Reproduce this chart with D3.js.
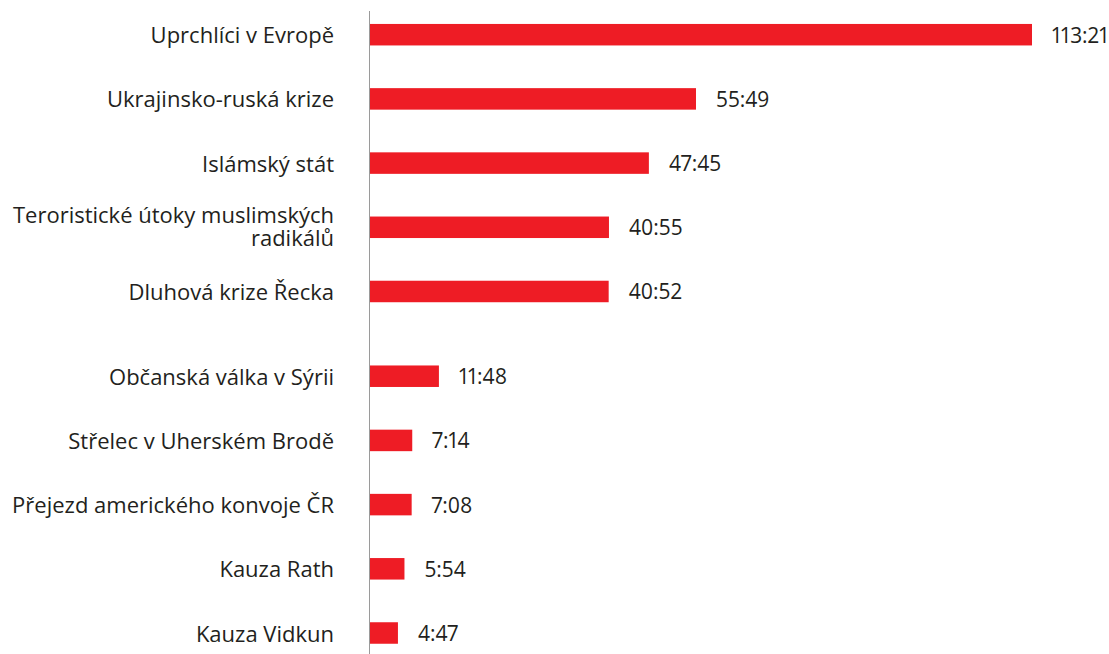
<!DOCTYPE html>
<html>
<head>
<meta charset="utf-8">
<script src="https://cdn.jsdelivr.net/npm/d3@7"></script>
<style>
  html, body { margin: 0; padding: 0; background: #ffffff; }
  svg { display: block; }
  text { font-family: "Open Sans", sans-serif; fill: #231f20; font-variant-numeric: proportional-nums; }
</style>
</head>
<body>
<svg id="chart" width="1109" height="654"></svg>
<script>
const categories = [
  ["Uprchlíci v Evropě"],
  ["Ukrajinsko-ruská krize"],
  ["Islámský stát"],
  ["Teroristické útoky muslimských", "radikálů"],
  ["Dluhová krize Řecka"],
  ["Občanská válka v Sýrii"],
  ["Střelec v Uherském Brodě"],
  ["Přejezd amerického konvoje ČR"],
  ["Kauza Rath"],
  ["Kauza Vidkun"]
];
const valueLabels = ["113:21", "55:49", "47:45", "40:55", "40:52", "11:48", "7:14", "7:08", "5:54", "4:47"];
const groups = [0, 0, 0, 0, 0, 1, 1, 1, 1, 1];

const toSeconds = s => { const [m, sec] = s.split(":").map(Number); return m * 60 + sec; };
const values = valueLabels.map(toSeconds);

const svg = d3.select("#chart");
const axisX = 370;
const x = d3.scaleLinear().domain([0, d3.max(values)]).range([axisX, 1032]);
const groupGap = 0.32;
const slots = categories.map((c, i) => i + groups[i] * groupGap);
const y = d3.scaleLinear().domain([0, d3.max(slots)]).range([34.7, 633]);
const barH = 21.5;

const data = categories.map((c, i) => ({ label: c, text: valueLabels[i], v: values[i], slot: slots[i] }));

svg.selectAll("rect.bar").data(data).join("rect")
  .attr("class", "bar")
  .attr("x", x(0))
  .attr("y", d => y(d.slot) - barH / 2)
  .attr("width", d => x(d.v) - x(0))
  .attr("height", barH)
  .attr("fill", "#ee1c25");

svg.append("line")
  .attr("x1", axisX - 0.5).attr("x2", axisX - 0.5)
  .attr("y1", 11).attr("y2", 654)
  .attr("stroke", "#9a9a9a").attr("stroke-width", 1);

const lineH = 23;
svg.selectAll("text.cat").data(data).join("text")
  .attr("class", "cat")
  .attr("text-anchor", "end")
  .attr("font-size", 22)
  .each(function(d) {
    const t = d3.select(this);
    const n = d.label.length;
    const shift = n > 1 ? -1.5 : 0;
    d.label.forEach((line, k) => {
      t.append("tspan")
        .attr("x", 334)
        .attr("y", y(d.slot) + (k - (n - 1) / 2) * lineH + shift)
        .attr("dy", "0.39em")
        .text(line);
    });
  });

svg.selectAll("text.val").data(data).join("text")
  .attr("class", "val")
  .attr("x", d => x(d.v) + 20)
  .attr("y", d => y(d.slot))
  .attr("dy", "0.38em")
  .attr("font-size", 21)
  .text(d => d.text);
</script>
</body>
</html>
